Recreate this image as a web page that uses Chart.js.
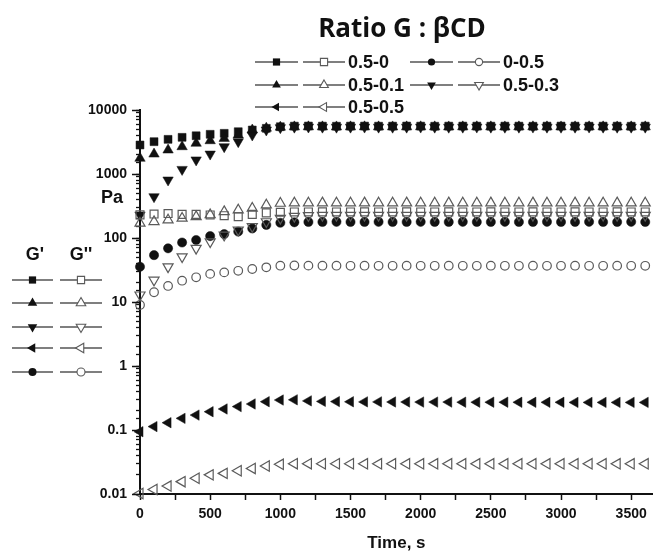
<!DOCTYPE html>
<html>
<head>
<meta charset="utf-8">
<script src="https://cdn.jsdelivr.net/npm/chart.js@4.4.0/dist/chart.umd.min.js"></script>
<style>
    html, body { margin: 0; padding: 0; background: #fff; }
    #wrap { width: 660px; height: 552px; position: relative; }
</style>
</head>
<body>
<div id="wrap"><canvas id="rheoChart" width="660" height="552"></canvas></div>
<script>
// ========== 数据 ==========
const timeS = [0, 100, 200, 300, 400, 500, 600, 700, 800, 900, 1000, 1100, 1200, 1300, 1400, 1500, 1600, 1700, 1800,
    1900, 2000, 2100, 2200, 2300, 2400, 2500, 2600, 2700, 2800, 2900, 3000, 3100, 3200, 3300, 3400, 3500, 3600];

// G' (filled)
const gp_05_0 = [2840, 3200, 3480, 3740, 3960, 4170, 4320, 4580, 4870, 5170, 5480, 5600,
    5620, 5600, 5580, 5600, 5610, 5590, 5600, 5620, 5600, 5580, 5600, 5610, 5600,
    5590, 5600, 5600, 5580, 5600, 5610, 5600, 5590, 5600, 5600, 5580, 5600];
const gp_05_01 = [1760, 2050, 2370, 2670, 3020, 3310, 3600, 4070, 4870, 5200, 5400, 5450,
    5460, 5450, 5440, 5450, 5460, 5450, 5440, 5450, 5460, 5450, 5440, 5450, 5460,
    5450, 5440, 5450, 5460, 5450, 5440, 5450, 5460, 5450, 5440, 5450, 5450];
const gp_05_03 = [229, 442, 806, 1180, 1660, 2050, 2670, 3200, 4070, 4870, 5300, 5400,
    5420, 5400, 5390, 5400, 5410, 5400, 5390, 5400, 5410, 5400, 5390, 5400, 5410,
    5400, 5390, 5400, 5410, 5400, 5390, 5400, 5410, 5400, 5390, 5400, 5400];
const gp_05_05 = [0.094, 0.113, 0.130, 0.152, 0.171, 0.193, 0.213, 0.232, 0.255, 0.277, 0.294, 0.296,
    0.285, 0.280, 0.278, 0.276, 0.275, 0.275, 0.274, 0.274, 0.273, 0.273, 0.273, 0.272, 0.272,
    0.272, 0.272, 0.271, 0.271, 0.271, 0.271, 0.270, 0.270, 0.270, 0.270, 0.270, 0.270];
const gp_0_05 = [35.5, 54, 69, 85, 93, 107, 115, 126, 141, 160, 173, 176,
    178, 178, 179, 178, 178, 179, 178, 178, 179, 178, 178, 179, 178,
    178, 179, 178, 178, 179, 178, 178, 179, 178, 178, 179, 178];

// G'' (open)
const gpp_05_0 = [230, 237, 241, 234, 234, 229, 223, 215, 234, 247, 252, 255,
    255, 256, 255, 255, 256, 255, 255, 256, 255, 255, 256, 255, 255,
    256, 255, 255, 256, 255, 255, 256, 255, 255, 256, 255, 255];
const gpp_05_01 = [170, 180, 191, 203, 215, 230, 258, 274, 291, 328, 348, 352,
    352, 353, 352, 352, 353, 352, 352, 353, 352, 352, 353, 352, 352,
    353, 352, 352, 353, 352, 352, 353, 352, 352, 353, 352, 352];
const gpp_05_03 = [12.9, 22, 35.5, 51, 69, 87.5, 111, 133, 151, 180, 204, 218,
    224, 226, 226, 227, 226, 226, 227, 226, 226, 227, 226, 226, 227,
    226, 226, 227, 226, 226, 227, 226, 226, 227, 226, 226, 226];
const gpp_05_05 = [0.0102, 0.0118, 0.0133, 0.0156, 0.0176, 0.0199, 0.0210, 0.0231, 0.0251, 0.0274, 0.0291, 0.0298,
    0.0298, 0.0297, 0.0297, 0.0297, 0.0296, 0.0296, 0.0296, 0.0296, 0.0296, 0.0296, 0.0296, 0.0296, 0.0296,
    0.0296, 0.0296, 0.0296, 0.0296, 0.0296, 0.0296, 0.0296, 0.0296, 0.0296, 0.0296, 0.0296, 0.0296];
const gpp_0_05 = [9.0, 14.2, 17.8, 21.5, 24.3, 27.5, 29.0, 30.7, 32.8, 34.8, 36.9, 37.2,
    37.0, 36.9, 36.9, 36.8, 36.9, 36.8, 36.8, 36.9, 36.8, 36.8, 36.9, 36.8, 36.8,
    36.9, 36.8, 36.8, 36.9, 36.8, 36.8, 36.9, 36.8, 36.8, 36.9, 36.8, 36.8];

const xTickValues = [0, 250, 500, 750, 1000, 1250, 1500, 1750, 2000, 2250, 2500, 2750, 3000, 3250, 3500];
const yDecades = [0.01, 0.1, 1, 10, 100, 1000, 10000];

const FILL = '#111';
const OPEN = '#5a5a5a';
const FONT = '"Liberation Sans", Arial, sans-serif';

// ========== 数据集 ==========
function series(values, style, rotation, filled, radius) {
    return {
        data: timeS.map((t, i) => ({ x: t, y: values[i] })),
        showLine: false,
        pointStyle: style,
        rotation: rotation,
        pointRadius: radius,
        pointHoverRadius: radius,
        backgroundColor: filled ? FILL : 'rgba(0,0,0,0)',
        borderColor: filled ? FILL : OPEN,
        borderWidth: filled ? 0.5 : 1.2,
        clip: false
    };
}

const datasets = [
    series(gpp_05_05, 'triangle', -90, false, 6),
    series(gpp_0_05, 'circle', 0, false, 4.3),
    series(gpp_05_03, 'triangle', 180, false, 5.8),
    series(gpp_05_0, 'rect', 0, false, 5.6),
    series(gpp_05_01, 'triangle', 0, false, 5.8),
    series(gp_05_05, 'triangle', -90, true, 6),
    series(gp_0_05, 'circle', 0, true, 4.6),
    series(gp_05_03, 'triangle', 180, true, 6),
    series(gp_05_01, 'triangle', 0, true, 6),
    series(gp_05_0, 'rect', 0, true, 5.6)
];

// ========== 图例标记 ==========
function drawMark(ctx, style, rot, x, y, r, filled) {
    ctx.save();
    ctx.beginPath();
    if (style === 'rect') {
        ctx.rect(x - r, y - r, 2 * r, 2 * r);
    } else if (style === 'circle') {
        ctx.arc(x, y, r, 0, Math.PI * 2);
    } else {
        let a = rot * Math.PI / 180;
        for (let k = 0; k < 3; k++) {
            const px = x + Math.sin(a) * r * 1.2;
            const py = y - Math.cos(a) * r * 1.2;
            if (k === 0) ctx.moveTo(px, py); else ctx.lineTo(px, py);
            a += Math.PI * 2 / 3;
        }
        ctx.closePath();
    }
    if (filled) {
        ctx.fillStyle = FILL;
        ctx.fill();
    } else {
        ctx.fillStyle = '#fff';
        ctx.fill();
        ctx.strokeStyle = OPEN;
        ctx.lineWidth = 1.1;
        ctx.stroke();
    }
    ctx.restore();
}

function legendEntry(ctx, x1, x2, y, style, rot, filled, r) {
    ctx.save();
    ctx.strokeStyle = '#555';
    ctx.lineWidth = 1.3;
    ctx.beginPath();
    ctx.moveTo(x1, y);
    ctx.lineTo(x2, y);
    ctx.stroke();
    ctx.restore();
    drawMark(ctx, style, rot, (x1 + x2) / 2, y, r, filled);
}

const decorPlugin = {
    id: 'decor',
    afterDraw(chart) {
        const ctx = chart.ctx;
        const area = chart.chartArea;
        const ys = chart.scales.y;

        // 主刻度加长
        ctx.save();
        ctx.strokeStyle = '#111';
        ctx.lineWidth = 1.5;
        yDecades.forEach(d => {
            const py = Math.round(ys.getPixelForValue(d)) + 0.5;
            ctx.beginPath();
            ctx.moveTo(area.left - 8, py);
            ctx.lineTo(area.left, py);
            ctx.stroke();
        });
        ctx.restore();

        ctx.save();
        ctx.fillStyle = '#111';

        // 标题
        ctx.textAlign = 'center';
        ctx.textBaseline = 'alphabetic';
        ctx.font = 'bold 26px "Open Sans", "Liberation Sans", sans-serif';
        ctx.fillText('Ratio G : βCD', 402, 37);

        ctx.textBaseline = 'middle';
        // 单位
        ctx.font = 'bold 18px ' + FONT;
        ctx.fillText('Pa', 112, 198);

        // 左侧图例
        ctx.fillText("G'", 35, 255);
        ctx.fillText("G''", 81, 255);
        const leftRows = [
            ['rect', 0, 280, 3.6],
            ['triangle', 0, 303, 4.6],
            ['triangle', 180, 327, 4.6],
            ['triangle', -90, 348, 4.6],
            ['circle', 0, 372, 4]
        ];
        leftRows.forEach(r => {
            legendEntry(ctx, 12, 53, r[2], r[0], r[1], true, r[3]);
            legendEntry(ctx, 60, 102, r[2], r[0], r[1], false, r[3]);
        });

        // 顶部图例
        ctx.textAlign = 'left';
        const topItems = [
            ['rect', 0, 255, 62, '0.5-0', 3.6],
            ['circle', 0, 410, 62, '0-0.5', 3.6],
            ['triangle', 0, 255, 85, '0.5-0.1', 4.2],
            ['triangle', 180, 410, 85, '0.5-0.3', 4.2],
            ['triangle', -90, 255, 107, '0.5-0.5', 4.2]
        ];
        topItems.forEach(it => {
            const x0 = it[2];
            legendEntry(ctx, x0, x0 + 43, it[3], it[0], it[1], true, it[5]);
            legendEntry(ctx, x0 + 48, x0 + 90, it[3], it[0], it[1], false, it[5]);
            ctx.fillText(it[4], x0 + 93, it[3] + 1);
        });
        ctx.restore();
    }
};

// ========== 图表 ==========
new Chart(document.getElementById('rheoChart').getContext('2d'), {
    type: 'scatter',
    data: { datasets: datasets },
    options: {
        responsive: false,
        animation: false,
        layout: { padding: { top: 110, right: 0, bottom: 0, left: 0 } },
        plugins: {
            legend: { display: false },
            tooltip: { enabled: false }
        },
        scales: {
            x: {
                type: 'linear',
                min: 0,
                max: 3654,
                afterBuildTicks: s => { s.ticks = xTickValues.map(v => ({ value: v })); },
                afterFit: s => { s.height = 58; },
                grid: {
                    display: true,
                    drawOnChartArea: false,
                    drawTicks: true,
                    tickLength: 6,
                    tickColor: '#111',
                    tickWidth: 1.5
                },
                border: { display: true, color: '#111', width: 2 },
                ticks: {
                    autoSkip: false,
                    maxRotation: 0,
                    padding: 6,
                    color: '#111',
                    font: { family: FONT, size: 14, weight: 'bold' },
                    callback: v => (v % 500 === 0 ? String(v) : '')
                },
                title: {
                    display: true,
                    text: 'Time, s',
                    color: '#111',
                    padding: { top: 0, bottom: -2 },
                    font: { family: FONT, size: 17, weight: 'bold' }
                }
            },
            y: {
                type: 'logarithmic',
                min: 0.01,
                max: 10000,
                afterFit: s => { s.width = 140; },
                grid: {
                    display: true,
                    drawOnChartArea: false,
                    drawTicks: true,
                    tickLength: 4,
                    tickColor: '#111',
                    tickWidth: 1.3
                },
                border: { display: true, color: '#111', width: 2 },
                ticks: {
                    autoSkip: false,
                    padding: 9,
                    color: '#111',
                    font: { family: FONT, size: 14, weight: 'bold' },
                    callback: v => {
                        const lg = Math.log10(v);
                        if (Math.abs(lg - Math.round(lg)) > 1e-6) return '';
                        return String(Number(v.toPrecision(3)));
                    }
                }
            }
        }
    },
    plugins: [decorPlugin]
});
</script>
</body>
</html>
